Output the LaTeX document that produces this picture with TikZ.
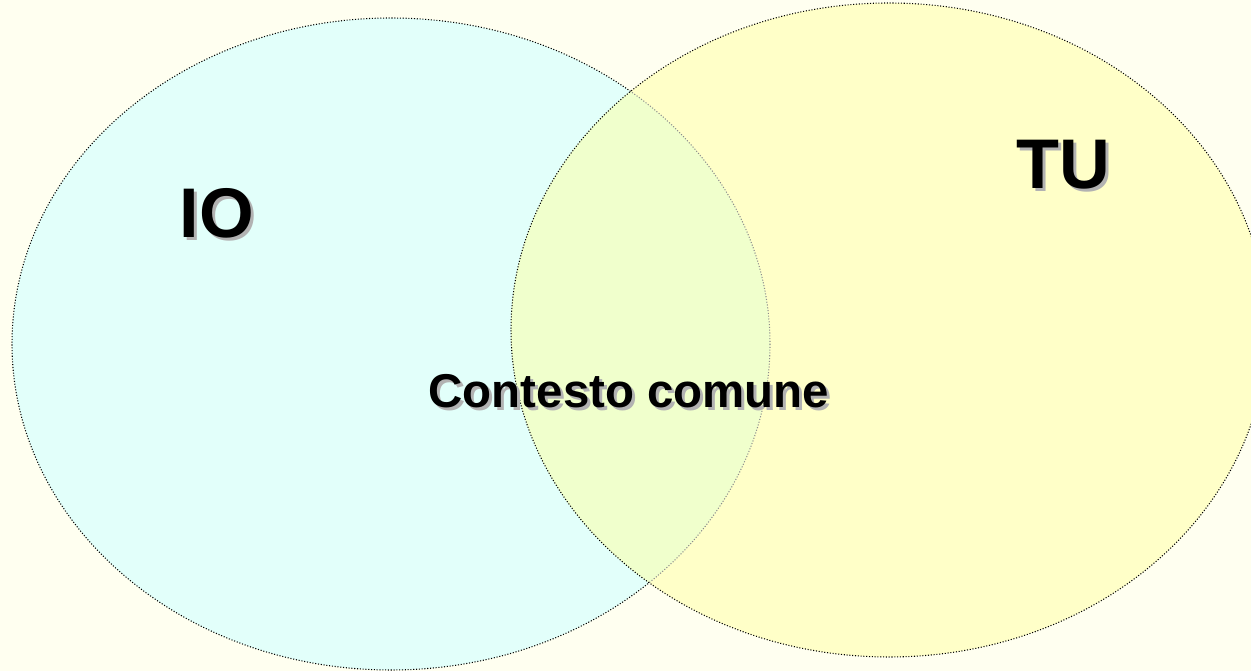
\documentclass[tikz,border=0pt]{standalone}
\usepackage{fontspec}
\setmainfont{Liberation Sans}
\definecolor{paper}{RGB}{255,255,240}
\definecolor{iofill}{RGB}{226,255,250}
\definecolor{tufill}{RGB}{255,255,200}
\definecolor{bothfill}{RGB}{240,255,204}
\definecolor{shadowgray}{RGB}{178,178,178}
% text with a soft drop shadow, set as one box
\newcommand{\dropped}[1]{\rlap{\hspace{1.7pt}\raisebox{-1.7pt}{\textcolor{shadowgray}{#1}}}#1}

\begin{document}
\begin{tikzpicture}[x=0.02cm, y=-0.02cm]
    \tikzstyle{rim} = [densely dotted, line width=0.6pt]
    \tikzstyle{big} = [font=\bfseries\fontsize{40}{40}\selectfont, inner sep=0pt]
    \tikzstyle{mid} = [font=\bfseries\fontsize{27}{27}\selectfont, inner sep=0pt]
    \useasboundingbox (0,0) rectangle (1251,671);
    \clip (0,0) rectangle (1251,671);
    \fill[paper] (0,0) rectangle (1251,671);
    % the two sets
    \fill[iofill] (391,344) ellipse [x radius=379, y radius=326];
    \fill[tufill] (889,330) ellipse [x radius=378, y radius=327];
    \begin{scope}
        \clip (889,330) ellipse [x radius=378, y radius=327];
        \fill[bothfill] (391,344) ellipse [x radius=379, y radius=326];
        \draw[rim, black!45] (391,344) ellipse [x radius=379, y radius=326];
    \end{scope}
    \begin{scope}
        \clip (0,0) rectangle (1251,671) (889,330) ellipse [x radius=378, y radius=327];
        \draw[rim, even odd rule] (391,344) ellipse [x radius=379, y radius=326];
    \end{scope}
    \draw[rim] (889,330) ellipse [x radius=378, y radius=327];
    % labels
    \node[big] (io) at (217,215) {\dropped{IO}};
    \node[big] (tu) at (1063,166) {\dropped{TU}};
    \node[mid] (cc) at (629,393) {\dropped{Contesto comune}};
\end{tikzpicture}
\end{document}
